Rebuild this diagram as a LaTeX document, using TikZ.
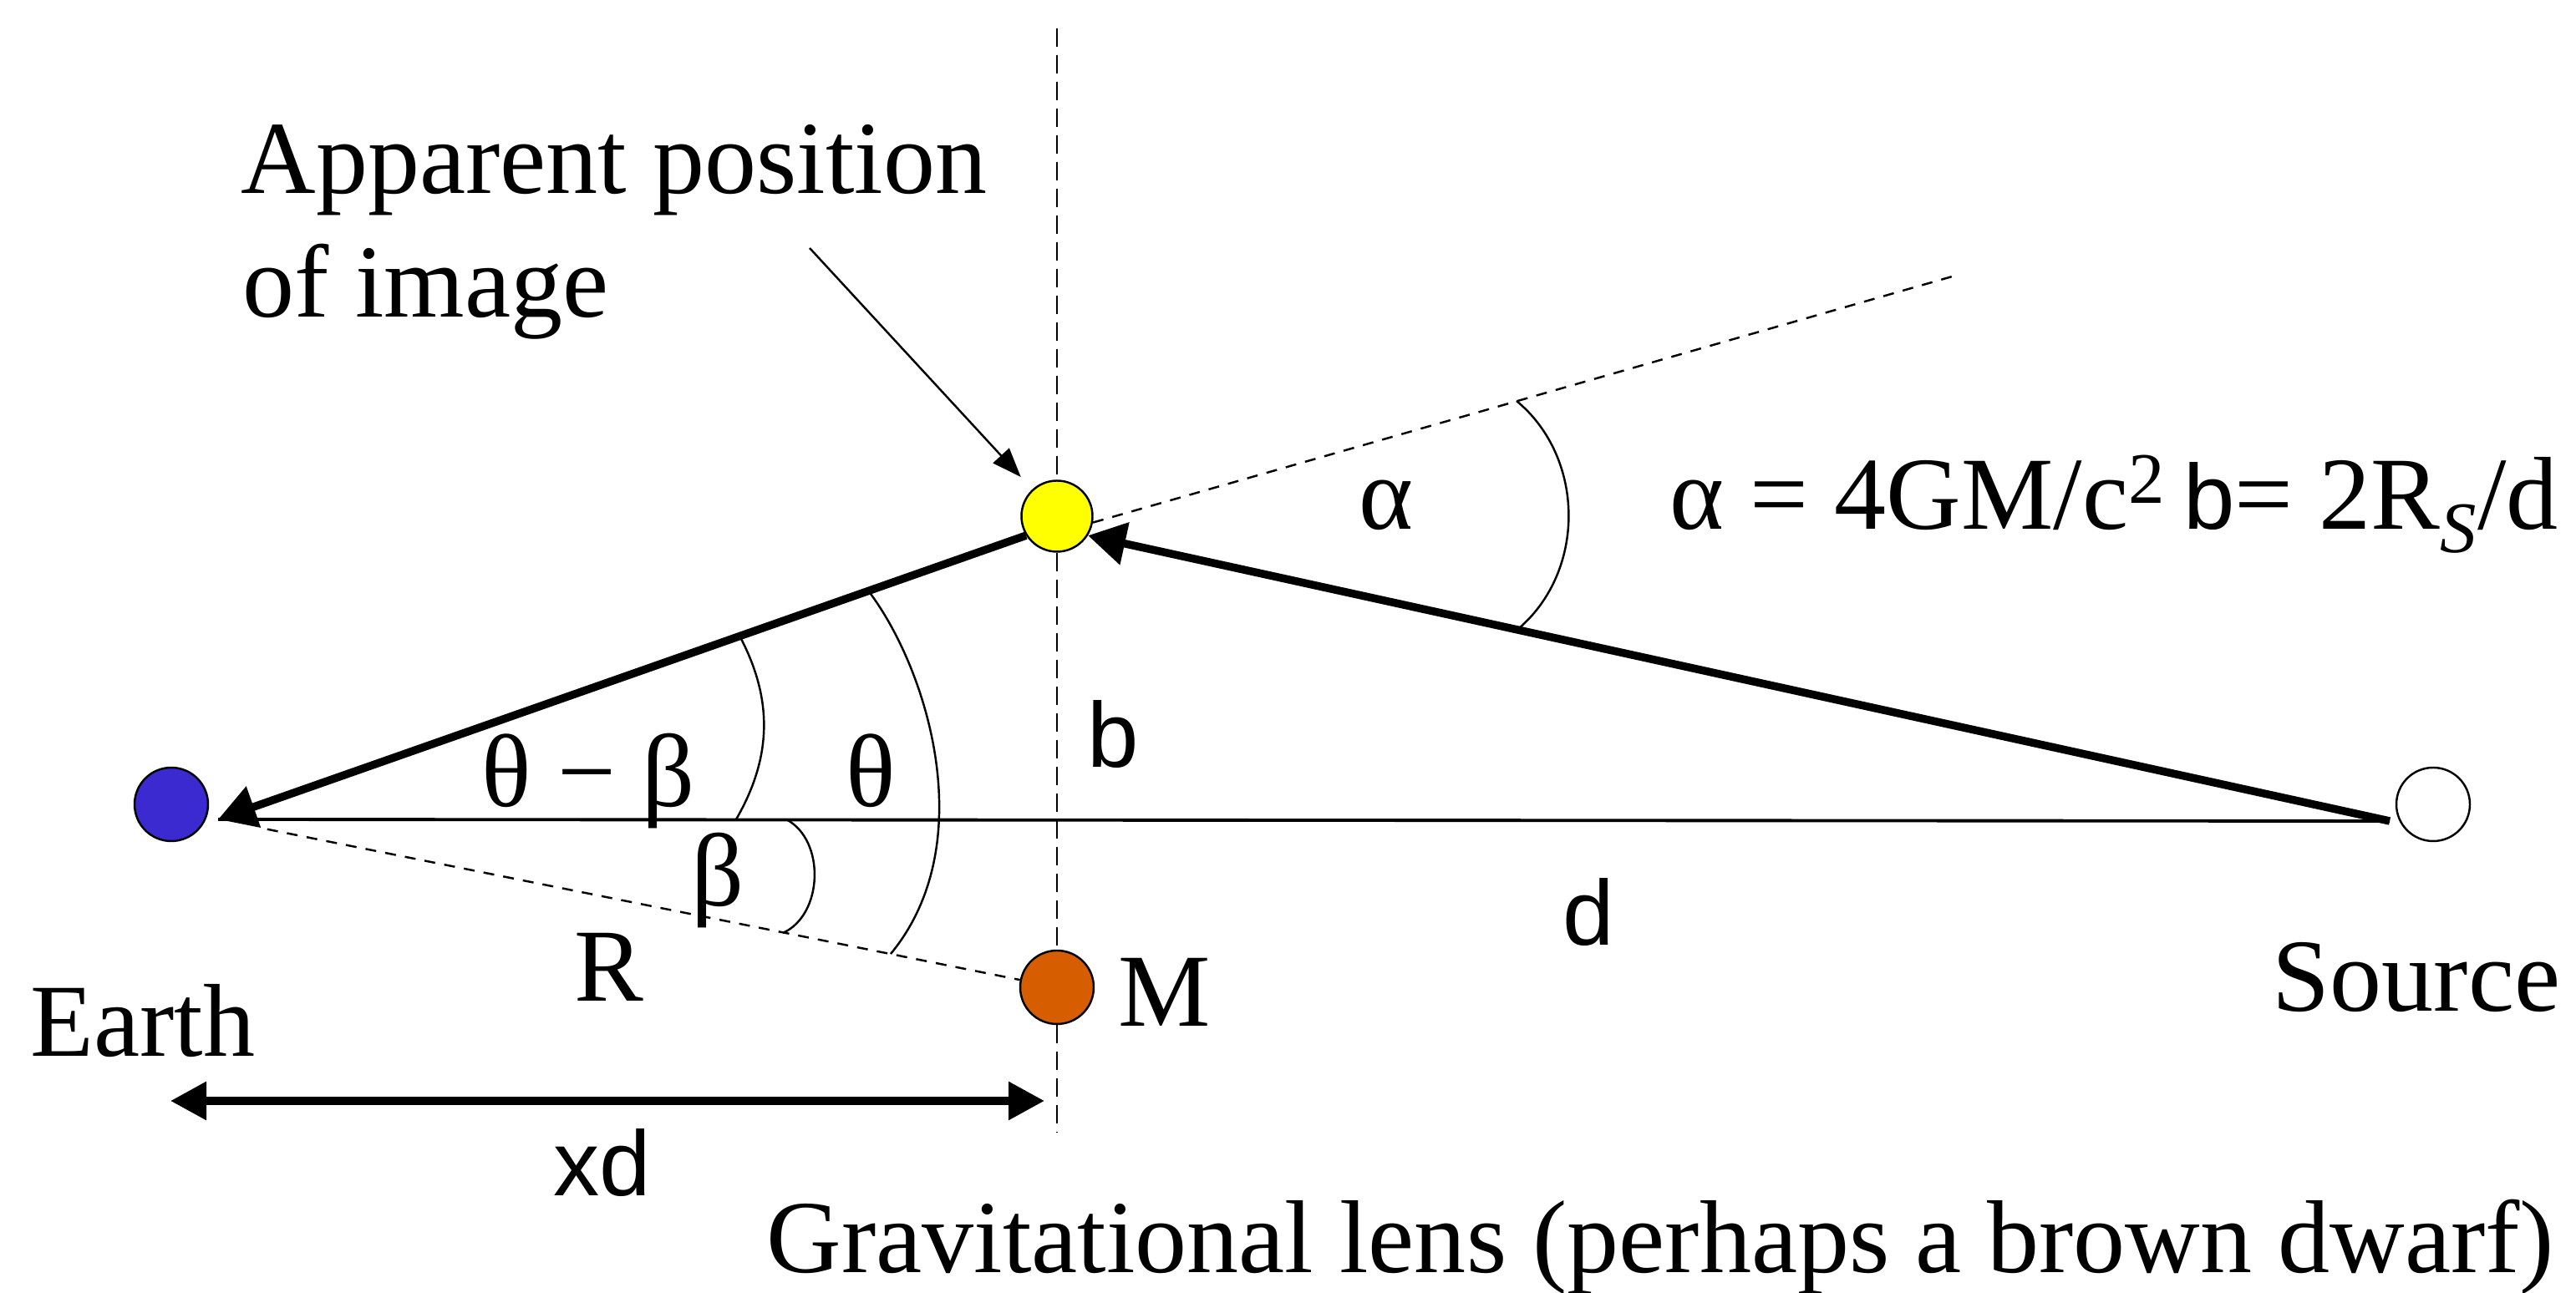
\documentclass[tikz,border=0pt]{standalone}
\usepackage{fontspec}
\setmainfont{Liberation Serif}
\setsansfont{Liberation Sans}
\usetikzlibrary{arrows.meta,calc}
\definecolor{earthblue}{RGB}{58,42,208}
\definecolor{lensorange}{RGB}{214,94,0}
\definecolor{imgyellow}{RGB}{255,255,0}
\newcommand{\sflabel}[1]{{\sffamily\fontsize{31.4}{37}\selectfont #1}}

\begin{document}
\begin{tikzpicture}[every node/.style={font=\fontsize{35.3}{42.1}\selectfont,inner sep=0pt},
  body/.style={draw,circle,line width=0.7pt,minimum size=0.88cm},
  lbl/.style={anchor=base west},
  slbl/.style={anchor=base west,font=\sffamily\fontsize{31.4}{37}\selectfont},
  ray/.style={line width=2.7pt,-{Triangle[length=4.5mm,width=5mm]}},
  thinline/.style={line width=0.7pt},
  dotline/.style={line width=0.7pt,dash pattern=on 1.3mm off 1.1mm}]
\useasboundingbox (0,0) rectangle (30.83,15.48);
\coordinate (lenstop) at (12.65,15.14);
\coordinate (lensbot) at (12.65,1.92);
\coordinate (eye) at (2.61,5.67);
\coordinate (srcpt) at (28.60,5.65);
\coordinate (far) at (23.40,12.18);
\coordinate (note) at (9.69,12.51);
\coordinate (xdl) at (2.04,2.30);
\coordinate (xdr) at (12.50,2.30);
\node[body,fill=earthblue] (earth) at (2.05,5.85) {};
\node[body,fill=white] (source) at (29.12,5.85) {};
\node[body,fill=imgyellow,minimum size=0.85cm] (img) at (12.65,9.30) {};
\node[body,fill=lensorange] (lens) at (12.65,3.66) {};
\draw[thinline,dash pattern=on 2.2mm off 1mm] (lenstop) -- (img) (img) -- (lens) (lens) -- (lensbot);
\draw[line width=1.1pt] (eye) -- (srcpt);
\draw[ray] (srcpt) -- (img.328);
\draw[ray] (img.212) -- (eye);
\draw[dotline] (img.350) -- (far);
\draw[dotline,shorten <=6mm] (eye) -- (lens);
\draw[line width=2.6pt,{Triangle[length=4.3mm,width=4.4mm]}-{Triangle[length=4.3mm,width=4.4mm]}] (xdl) -- (xdr);
\draw[thinline,-{Triangle[length=3.5mm,width=2.6mm]},shorten >=2mm] (note) -- (img);
\draw[thinline] (8.85,7.87) to[bend left=29] (8.81,5.67);
\draw[thinline] (10.39,8.41) .. controls (11.10,7.48) and (11.75,5.38) .. (10.66,4.06);
\draw[thinline] (9.41,5.67) to[bend left=64] (9.37,4.31);
\draw[thinline] (18.15,10.68) to[bend left=50] (18.17,7.95);
\node[lbl] (apptop) at (2.88,13.16) {Apparent position};
\node[lbl] (appbot) at (2.90,11.68) {of image};
\node[lbl] (alphalbl) at (16.26,9.14) {α};
\node[lbl] (formula) at (19.98,9.14) {α = 4GM/c\textsuperscript{2}\,\sflabel{b}= 2R\textsubscript{\textit{S}}/d};
\node[slbl] (blbl) at (13.01,6.29) {b};
\node[lbl] (thbeta) at (5.76,5.82) {θ − β};
\node[lbl] (thlbl) at (10.12,5.82) {θ};
\node[lbl] (betalbl) at (8.27,4.63) {β};
\node[lbl] (rlbl) at (6.87,3.49) {R};
\node[lbl] (earthlbl) at (0.36,2.83) {Earth};
\node[lbl] (mlbl) at (13.38,3.19) {M};
\node[lbl] (srclbl) at (27.19,3.37) {Source};
\node[slbl] (dlbl) at (18.70,4.16) {d};
\node[slbl] (xdlbl) at (6.62,1.16) {xd};
\node[lbl] (gravlbl) at (9.17,0.24) {Gravitational lens (perhaps a brown dwarf)};
\end{tikzpicture}
\end{document}
